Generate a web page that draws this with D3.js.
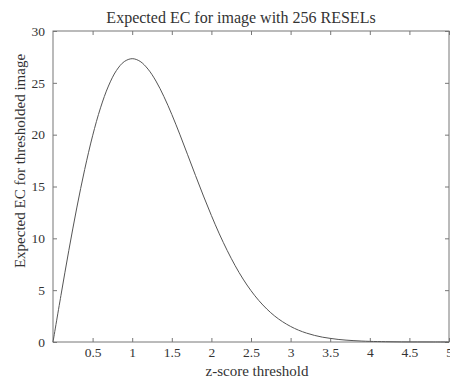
<!DOCTYPE html>
<html>
<head>
<meta charset="utf-8">
<script src="https://cdn.jsdelivr.net/npm/d3@7"></script>
<style>
  body { margin: 0; background: #fff; }
  text { font-family: "Liberation Serif", "DejaVu Serif", serif; fill: #333; }
</style>
</head>
<body>
<div id="chart"></div>
<script>
// z-score thresholds and expected EC
const zScores = [0, 0.1, 0.2, 0.3, 0.4, 0.5, 0.6, 0.7, 0.8, 0.9, 1.0, 1.1, 1.2, 1.3, 1.4,
  1.5, 1.6, 1.7, 1.8, 1.9, 2.0, 2.1, 2.2, 2.3, 2.4, 2.5, 2.6, 2.7, 2.8, 2.9, 3.0,
  3.1, 3.2, 3.3, 3.4, 3.5, 3.6, 3.7, 3.8, 3.9, 4.0, 4.2, 4.4, 4.6, 4.8, 5.0];
const expectedEC = [0, 4.48, 8.84, 12.93, 16.64, 19.89, 22.59, 24.69, 26.18, 27.05, 27.33,
  27.07, 26.32, 25.17, 23.68, 21.95, 20.05, 18.06, 16.05, 14.08, 12.20, 10.43, 8.82,
  7.36, 6.07, 4.95, 3.99, 3.18, 2.50, 1.95, 1.50, 1.14, 0.86, 0.64, 0.47, 0.35, 0.25,
  0.18, 0.13, 0.09, 0.06, 0.03, 0.01, 0.005, 0.002, 0.001];
const xTicks = [0.5, 1, 1.5, 2, 2.5, 3, 3.5, 4, 4.5, 5];
const yTicks = [0, 5, 10, 15, 20, 25, 30];

const width = 450, height = 380;
const margin = {top: 31, right: 1, bottom: 38, left: 53};

const svg = d3.select("#chart").append("svg")
  .attr("width", width).attr("height", height);

const x = d3.scaleLinear().domain([0, 5]).range([margin.left, width - margin.right]);
const y = d3.scaleLinear().domain([0, 30]).range([height - margin.bottom, margin.top]);

// box + inward ticks, MATLAB style
const axisColor = "#777";
function styleAxis(g) {
  g.select(".domain").remove();
  g.selectAll(".tick line").attr("stroke", axisColor);
  g.selectAll(".tick text").attr("font-size", 13.5).attr("fill", "#444")
    .style("font-family", "Liberation Serif, serif");
}

svg.append("g")
  .attr("transform", `translate(0,${y(0)})`)
  .call(d3.axisBottom(x).tickValues(xTicks).tickSizeInner(-4).tickPadding(5).tickFormat(d3.format("")))
  .call(styleAxis);

svg.append("g")
  .attr("transform", `translate(0,${y(30)})`)
  .call(d3.axisTop(x).tickValues(xTicks).tickSizeInner(-4).tickFormat(""))
  .call(styleAxis);

svg.append("g")
  .attr("transform", `translate(${x(0)},0)`)
  .call(d3.axisLeft(y).tickValues(yTicks).tickSizeInner(-4).tickPadding(8))
  .call(styleAxis);

svg.append("g")
  .attr("transform", `translate(${x(5)},0)`)
  .call(d3.axisRight(y).tickValues(yTicks).tickSizeInner(-4).tickFormat(""))
  .call(styleAxis);

svg.append("rect")
  .attr("x", x(0)).attr("y", y(30))
  .attr("width", x(5) - x(0)).attr("height", y(0) - y(30))
  .attr("fill", "none").attr("stroke", axisColor).attr("stroke-width", 1);

const line = d3.line()
  .x((d, i) => x(zScores[i]))
  .y(d => y(d))
  .curve(d3.curveCatmullRom);

svg.append("path")
  .datum(expectedEC)
  .attr("d", line)
  .attr("fill", "none")
  .attr("stroke", "#555")
  .attr("stroke-width", 1);

svg.append("text")
  .attr("x", 241).attr("y", 23)
  .attr("text-anchor", "middle")
  .attr("font-size", 16)
  .text("Expected EC for image with 256 RESELs");

svg.append("text")
  .attr("x", 257).attr("y", 376)
  .attr("text-anchor", "middle")
  .attr("font-size", 15)
  .text("z-score threshold");

svg.append("text")
  .attr("transform", "translate(25,161) rotate(-90)")
  .attr("text-anchor", "middle")
  .attr("font-size", 15)
  .text("Expected EC for thresholded image");
</script>
</body>
</html>
